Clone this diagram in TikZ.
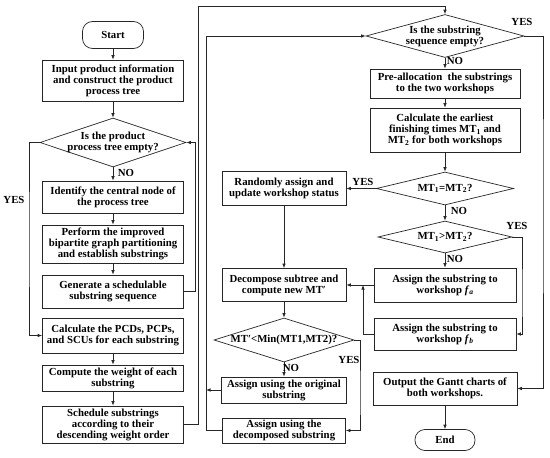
\documentclass[tikz,border=0pt]{standalone}
\usepackage{fontspec}
\setmainfont{Liberation Serif}
\usetikzlibrary{shapes.geometric}
\usetikzlibrary{arrows.meta}

\begin{document}
\begin{tikzpicture}[x=1pt,y=-1pt,line width=0.7pt,draw=black!85,
  font=\bfseries\fontsize{10.8}{11}\selectfont,
  box/.style={draw,rectangle,align=center,inner sep=0pt},
  term/.style={draw,rectangle,rounded corners=10pt,inner sep=0pt},
  dia/.style={draw,diamond,inner sep=0pt},
  arr/.style={-{Latex[length=4.5pt,width=3.5pt]}},
  lab/.style={inner sep=0pt}]
\useasboundingbox (0,0) rectangle (550,458);

\node[term,minimum width=61pt,minimum height=27pt] (st) at (113,35) {Start};
\node[box,minimum width=141pt,minimum height=41pt] (l1) at (113,80.5) {Input product information\\and construct the product\\process tree};
\node[dia,minimum width=146pt,minimum height=49pt] (d1) at (113,142.5) {};
\node[lab,align=center] (d1t) at (d1) {Is the product\\process tree empty?};
\node[box,minimum width=141pt,minimum height=32pt] (l2) at (113,197) {Identify the central node of\\the process tree};
\node[box,minimum width=141pt,minimum height=38pt] (l3) at (113,244) {Perform the improved\\bipartite graph partitioning\\and establish substrings};
\node[box,minimum width=141pt,minimum height=33pt] (l4) at (113,291.5) {Generate a schedulable\\substring sequence};
\node[box,minimum width=141pt,minimum height=35pt] (l5) at (113,335.5) {Calculate the PCDs, PCPs,\\and SCUs for each substring};
\node[box,minimum width=141pt,minimum height=26pt] (l6) at (113,378) {Compute the weight of each\\substring};
\node[box,minimum width=141pt,minimum height=37pt] (l7) at (113,424.5) {Schedule substrings\\according to their\\descending weight order};

\node[box,minimum width=124pt,minimum height=34pt] (m1) at (284,188.5) {Randomly assign and\\update workshop status};
\node[box,minimum width=124pt,minimum height=33pt] (m2) at (284,285) {Decompose subtree and\\compute new MT′};
\node[dia,minimum width=140pt,minimum height=44pt] (dm) at (284,340) {};
\node[lab] (dmt) at (dm) {MT′<Min(MT1,MT2)?};
\node[box,minimum width=125pt,minimum height=26pt] (m3) at (284,390) {Assign using the original\\substring};
\node[box,minimum width=123pt,minimum height=25pt] (m4) at (284,430.5) {Assign using the\\decomposed substring};

\node[dia,minimum width=158pt,minimum height=43pt] (r0) at (445,36) {};
\node[lab,align=center] (r0t) at (r0) {Is the substring\\sequence empty?};
\node[box,minimum width=150pt,minimum height=29pt] (r1) at (445,83.5) {Pre-allocation\ \ the substrings\\to the two workshops};
\node[box,minimum width=150pt,minimum height=44pt] (r2) at (445,130) {Calculate the earliest\\finishing times MT\textsubscript{1} and\\MT\textsubscript{2} for both workshops};
\node[dia,minimum width=137pt,minimum height=33pt] (dr2) at (445,188.5) {};
\node[lab] (dr2t) at (dr2) {MT\textsubscript{1}=MT\textsubscript{2}?};
\node[dia,minimum width=134pt,minimum height=32pt] (dr3) at (445,237) {};
\node[lab] (dr3t) at (dr3) {MT\textsubscript{1}>MT\textsubscript{2}?};
\node[box,minimum width=142pt,minimum height=34pt] (r3) at (445,285) {Assign the substring to\\workshop \textit{f}\textsubscript{\textit{a}}};
\node[box,minimum width=142pt,minimum height=32pt] (r4) at (445,334) {Assign the substring to\\workshop \textit{f}\textsubscript{\textit{b}}};
\node[box,minimum width=144pt,minimum height=33pt] (r5) at (445,388.5) {Output the Gantt charts of\\both workshops.};
\node[term,minimum width=60pt,minimum height=21pt] (en) at (445,440) {End};

\coordinate (ka) at (195,142.5);
\coordinate (kb) at (198,6);
\coordinate (kc) at (206,36);
\coordinate (kd) at (360,400);
\coordinate (ke) at (363,285);
\coordinate (kf) at (522,300);
\coordinate (kg) at (543,200);
\coordinate (kl) at (29,240);

\draw[arr] (st) -- (l1);
\draw[arr] (l1) -- (d1);
\draw[arr] (d1) -- (l2);
\draw[arr] (l2) -- (l3);
\draw[arr] (l3) -- (l4);
\draw[arr] (l5) -- (l6);
\draw[arr] (l6) -- (l7);
\draw[arr] (d1.west) -| (kl) |- (l5.west);
\draw[arr] (l4.east) -| (ka) -- (d1.east);
\draw[arr] (l7.east) -| (kb) -| (r0.north);

\draw[arr] (dr2.west) -- (m1.east);
\draw[arr] (m1) -- (m2);
\draw[arr] (m2) -- (dm);
\draw[arr] (dm) -- (m3);
\draw[arr] (dm.east) -| (kd) |- (m4.east);
\draw[arr] (m3.west) -- (m3.west -| kc);
\draw[arr] (m4.west) -| (kc) -- (r0.west);

\draw[arr] (r0) -- (r1);
\draw[arr] (r1) -- (r2);
\draw[arr] (r2) -- (dr2);
\draw[arr] (dr2) -- (dr3);
\draw[arr] (dr3) -- (r3);
\draw[arr] (dr3.east) -| (kf) |- (r4.east);
\draw[arr] (r3.west) -- (m2.east);
\draw[arr] (r4.west) -| (ke);
\draw[arr] (r0.east) -| (kg) |- (r5.east);
\draw[arr] (r5) -- (en);

\node[lab] (y1) at (14,200) {YES};
\node[lab] (n1) at (126,173) {NO};
\node[lab] (y2) at (522,22) {YES};
\node[lab] (n2) at (455,61) {NO};
\node[lab] (y3) at (363,182) {YES};
\node[lab] (n3) at (459,211) {NO};
\node[lab] (y4) at (517,226) {YES};
\node[lab] (n4) at (455,259) {NO};
\node[lab] (y5) at (349,360) {YES};
\node[lab] (n5) at (291,368) {NO};
\end{tikzpicture}
\end{document}
